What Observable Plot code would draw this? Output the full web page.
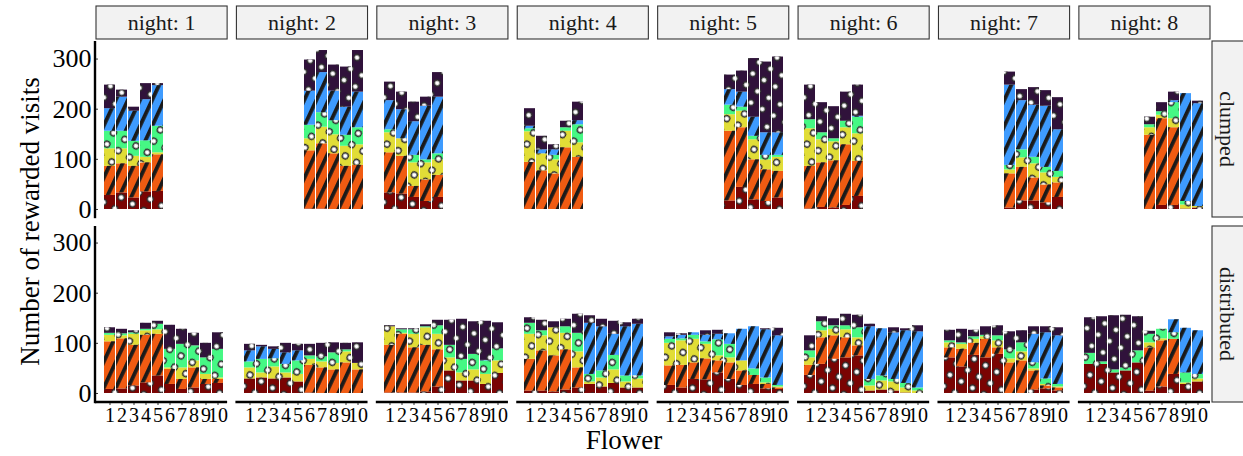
<!DOCTYPE html>
<html><head><meta charset="utf-8">
<script src="https://cdn.jsdelivr.net/npm/d3@7"></script>
<script src="https://cdn.jsdelivr.net/npm/@observablehq/plot@0.6"></script>
<style>body{margin:0;background:#fff;} svg{display:block} svg text{font-family:'Liberation Serif','Times New Roman',serif !important;}</style>
</head><body><div id="chart"></div>
<script>
const nights = [1, 2, 3, 4, 5, 6, 7, 8];
const flowers = [1, 2, 3, 4, 5, 6, 7, 8, 9, 10];
const arrangements = ["clumped", "distributed"];
const groups = ["A", "B", "C", "D", "E", "F"]; // stacked bottom to top
const colors = ["#7A0403", "#F05B12", "#E1DD37", "#46F884", "#3E9BFE", "#30123B"];
const patterns = ["circle", "stripe", "circle", "circle", "stripe", "circle"];
const yTicks = [0, 100, 200, 300];

// rewarded visits per flower: [A, B, C, D, E, F]
const clumped1 = [[28,58,35,35,45,47],[33,58,30,35,68,14],[23,63,20,30,60,8],[35,58,11,33,82,32],[36,73,4,53,81,4],[0,0,0,0,0,0],[0,0,0,0,0,0],[0,0,0,0,0,0],[0,0,0,0,0,0],[0,0,0,0,0,0]];
const clumped2 = [[0,0,0,0,0,0],[0,0,0,0,0,0],[0,0,0,0,0,0],[0,0,0,0,0,0],[0,0,0,0,0,0],[1,116,24,27,68,62],[1,130,33,29,80,44],[0,111,38,28,59,52],[0,86,40,22,56,80],[0,88,41,34,71,83]];
const clumped3 = [[33,80,40,6,58,37],[31,75,35,0,58,35],[24,22,47,15,67,39],[16,43,34,6,107,18],[24,44,31,12,113,49],[0,0,0,0,0,0],[0,0,0,0,0,0],[0,0,0,0,0,0],[0,0,0,0,0,0],[0,0,0,0,0,0]];
const clumped4 = [[0,94,61,6,5,35],[0,77,34,0,8,27],[0,71,28,9,11,10],[0,123,33,7,0,13],[0,104,29,36,8,37],[0,0,0,0,0,0],[0,0,0,0,0,0],[0,0,0,0,0,0],[0,0,0,0,0,0],[0,0,0,0,0,0]];
const clumped5 = [[0,0,0,0,0,0],[0,0,0,0,0,0],[0,0,0,0,0,0],[0,0,0,0,0,0],[0,0,0,0,0,0],[17,139,33,19,31,29],[44,119,33,8,30,42],[19,80,40,7,38,117],[16,63,20,9,45,141],[23,53,28,4,45,151]];
const clumped6 = [[1,85,75,18,0,69],[4,89,46,14,0,60],[3,94,38,6,0,64],[8,121,34,13,0,58],[26,70,55,33,2,62],[0,0,0,0,0,0],[0,0,0,0,0,0],[0,0,0,0,0,0],[0,0,0,0,0,0],[0,0,0,0,0,0]];
const clumped7 = [[0,0,0,0,0,0],[0,0,0,0,0,0],[0,0,0,0,0,0],[0,0,0,0,0,0],[0,0,0,0,0,0],[3,68,8,9,160,26],[17,67,19,16,98,22],[17,46,28,13,104,35],[13,36,24,11,122,31],[24,29,11,12,83,64]];
const clumped8 = [[0,0,0,0,0,0],[0,0,0,0,0,0],[0,0,0,0,0,0],[0,0,0,0,0,0],[0,0,0,0,0,0],[0,148,15,6,0,15],[8,173,7,7,0,18],[8,155,18,32,4,17],[1,0,8,7,215,0],[3,0,3,0,205,5]];

const distributed1 = [[8,95,13,4,0,11],[9,100,6,4,0,9],[15,81,22,3,0,4],[21,95,9,3,0,12],[35,83,9,11,0,6],[18,30,3,37,0,48],[8,20,23,47,0,30],[11,40,14,30,0,25],[18,10,10,33,0,29],[20,8,3,57,0,33]];
const distributed2 = [[29,0,22,12,22,13],[31,0,10,27,25,3],[29,0,24,16,19,5],[31,0,10,17,23,19],[23,0,15,27,20,13],[1,55,12,7,0,23],[0,51,12,10,0,27],[0,47,13,21,0,20],[0,61,22,4,0,13],[0,47,13,0,0,41]];
const distributed3 = [[1,95,37,0,0,2],[1,117,2,7,0,2],[1,90,27,9,0,2],[3,93,35,2,0,4],[13,74,31,17,0,11],[45,0,26,25,0,50],[25,0,16,27,0,80],[25,0,22,31,0,65],[18,0,20,27,1,78],[40,0,25,24,0,52]];
const distributed4 = [[5,63,50,22,0,11],[5,80,30,10,0,21],[3,72,56,0,0,12],[7,80,33,13,0,15],[11,40,32,37,0,38],[18,0,5,15,102,15],[13,0,18,14,88,15],[20,0,27,29,42,26],[11,0,12,12,98,8],[11,0,18,6,103,10]];
const distributed5 = [[16,39,45,8,5,8],[11,45,49,4,7,3],[28,33,47,8,5,0],[27,42,29,5,13,9],[41,24,10,32,11,8],[28,33,10,27,21,0],[16,29,20,0,63,0],[18,18,0,13,84,0],[9,9,3,10,96,2],[8,3,2,3,99,15]];
const distributed6 = [[36,20,15,14,0,30],[58,53,14,18,0,10],[68,47,13,7,0,14],[71,40,16,8,0,23],[75,20,16,20,0,25],[5,0,10,13,105,5],[7,0,18,10,94,0],[5,0,18,5,93,10],[1,0,10,9,105,4],[0,0,5,6,112,12]];
const distributed7 = [[71,20,10,4,0,21],[53,35,10,3,0,27],[76,24,8,5,0,13],[71,37,5,3,0,17],[78,13,14,10,0,20],[0,61,8,18,0,36],[0,65,18,18,0,24],[7,38,4,12,57,15],[9,6,3,11,92,12],[5,6,2,5,97,16]];
const distributed8 = [[58,0,0,22,0,71],[58,0,0,5,0,90],[41,0,0,6,0,108],[45,0,0,6,0,105],[61,0,0,24,0,68],[5,86,10,17,0,6],[13,92,4,19,0,0],[38,70,0,13,26,0],[18,0,3,20,89,0],[23,0,6,9,87,0]];

const byArrangement = {
  clumped: [clumped1, clumped2, clumped3, clumped4, clumped5, clumped6, clumped7, clumped8],
  distributed: [distributed1, distributed2, distributed3, distributed4, distributed5, distributed6, distributed7, distributed8]
};

const data = [];
arrangements.forEach(a => nights.forEach((n, i) => byArrangement[a][i].forEach((vals, j) =>
  vals.forEach((v, k) => data.push({arrangement: a, night: n, flower: flowers[j], group: groups[k], pat: "pat " + groups[k], value: v})))));

const W = 1243, H = 456, mL = 96, mR = 33, mT = 41, mB = 54;
const FONT = "'Liberation Serif', 'Times New Roman', serif";

const plot = Plot.plot({
  width: W, height: H,
  marginLeft: mL, marginRight: mR, marginTop: mT, marginBottom: mB,
  style: {fontFamily: FONT, background: "#fff", color: "#000", overflow: "visible"},
  fx: {domain: nights, paddingInner: 0.0662, paddingOuter: 0, axis: null, label: null},
  fy: {domain: arrangements, paddingInner: 0.0486, paddingOuter: 0, axis: null, label: null},
  x: {domain: flowers, paddingInner: 0.1, paddingOuter: 0.15, label: null},
  y: {domain: [-16, 333], label: null},
  color: {type: "ordinal",
          domain: [...groups, ...groups.map(g => "pat " + g)],
          range: [...colors, ...patterns.map(p => `url(#pat-${p})`)]},
  marks: [
    Plot.barY(data, {fx: "night", fy: "arrangement", x: "flower", y: "value", z: "group", fill: "group"}),
    Plot.barY(data, {fx: "night", fy: "arrangement", x: "flower", y: "value", z: "group", fill: "pat"}),
    Plot.axisX({tickSize: 4, tickPadding: 2, fontSize: 20, label: null, stroke: "#333"}),
    Plot.axisY({ticks: yTicks, tickSize: 4, tickPadding: 3, fontSize: 26, label: null, stroke: "#333"})
  ]
});

const svg = d3.select(plot);
const defs = svg.insert("defs", ":first-child");
const pc = defs.append("pattern").attr("id", "pat-circle").attr("patternUnits", "userSpaceOnUse")
  .attr("width", 13).attr("height", 13).attr("patternTransform", "rotate(30)");
pc.append("circle").attr("cx", 6.5).attr("cy", 6.5).attr("r", 3)
  .attr("fill", "#fff").attr("stroke", "#2a2a2a").attr("stroke-width", 1.3);
const ps = defs.append("pattern").attr("id", "pat-stripe").attr("patternUnits", "userSpaceOnUse")
  .attr("width", 11).attr("height", 11).attr("patternTransform", "rotate(25)");
ps.append("rect").attr("x", 0).attr("y", 0).attr("width", 3.8).attr("height", 11).attr("fill", "#1a1a1a");

const fxD = plot.scale("fx"), fyD = plot.scale("fy");
const fxS = d3.scaleBand(fxD.domain, fxD.range).paddingInner(fxD.paddingInner ?? 0.0662).paddingOuter(fxD.paddingOuter ?? 0).align(fxD.align ?? 0.5);
const fyS = d3.scaleBand(fyD.domain, fyD.range).paddingInner(fyD.paddingInner ?? 0.0486).paddingOuter(fyD.paddingOuter ?? 0).align(fyD.align ?? 0.5);
const bw = fxS.bandwidth(), bh = fyS.bandwidth();
const deco = svg.append("g");

// top strips
nights.forEach(n => {
  const x = fxS(n);
  deco.append("rect").attr("x", x).attr("y", 6).attr("width", bw).attr("height", 33)
    .attr("fill", "#F2F2F2").attr("stroke", "#333").attr("stroke-width", 1.1);
  deco.append("text").attr("x", x + bw / 2).attr("y", 22.5).attr("text-anchor", "middle")
    .attr("dominant-baseline", "central").style("font-size", "22px")
    .attr("fill", "#1a1a1a").text(`night: ${n}`);
});
// right strips
const rx = W - mR + 2;
arrangements.forEach(a => {
  const y = fyS(a);
  deco.append("rect").attr("x", rx).attr("y", y).attr("width", 40).attr("height", bh)
    .attr("fill", "#F2F2F2").attr("stroke", "#333").attr("stroke-width", 1.1);
  deco.append("text").attr("transform", `translate(${rx + 15},${y + bh / 2}) rotate(90)`)
    .attr("text-anchor", "middle").attr("dominant-baseline", "central")
    .style("font-size", "22px").attr("fill", "#1a1a1a").text(a);
});
// axis lines
const yb = fyS("distributed") + bh;
nights.forEach(n => {
  deco.append("line").attr("x1", fxS(n) - 1).attr("x2", fxS(n) + bw).attr("y1", yb).attr("y2", yb)
    .attr("stroke", "#000").attr("stroke-width", 2.4);
});
arrangements.forEach(a => {
  deco.append("line").attr("x1", fxS(1) - 1).attr("x2", fxS(1) - 1).attr("y1", fyS(a)).attr("y2", fyS(a) + bh + 1.2)
    .attr("stroke", "#000").attr("stroke-width", 2.4);
});
// axis titles
deco.append("text").attr("transform", `translate(39,${(mT + H - mB) / 2}) rotate(-90)`)
  .attr("text-anchor", "middle").style("font-size", "27px")
  .attr("fill", "#000").text("Number of rewarded visits");
deco.append("text").attr("x", 624).attr("y", 449).attr("text-anchor", "middle")
  .style("font-size", "27px").attr("fill", "#000").text("Flower");

svg.selectAll("text").attr("font-family", FONT);
document.getElementById("chart").appendChild(plot);
</script>
</body></html>
